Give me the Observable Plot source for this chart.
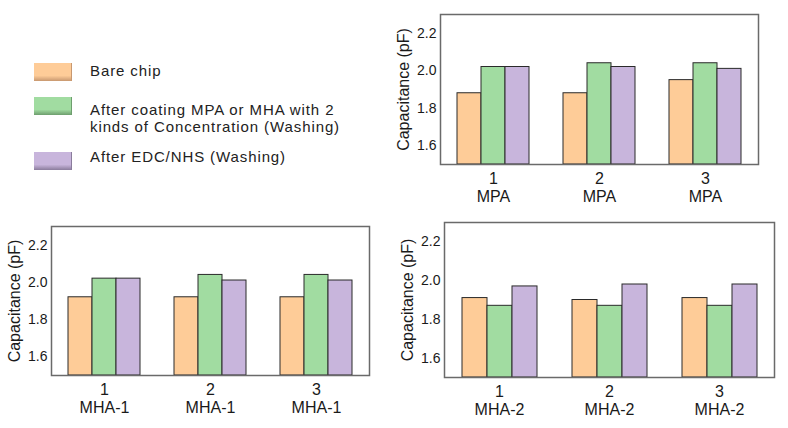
<!DOCTYPE html>
<html>
<head>
<meta charset="utf-8">
<script src="https://cdn.jsdelivr.net/npm/d3@7"></script>
<script src="https://cdn.jsdelivr.net/npm/@observablehq/plot@0.6"></script>
<style>
  html, body { margin: 0; padding: 0; background: #fff; }
  body { width: 788px; height: 428px; position: relative; overflow: hidden; font-family: "Liberation Sans", Arial, sans-serif; }
  .panel { position: absolute; }
  .sw { position: absolute; left: 34px; width: 38px; height: 18px; }
  .lt { position: absolute; left: 90px; font-size: 15px; line-height: 17px; letter-spacing: 0.9px; color: #222; white-space: nowrap; }
</style>
</head>
<body>
<div id="legend"></div>
<div id="p1" class="panel" style="left:389px; top:0px;"></div>
<div id="p2" class="panel" style="left:1px; top:212px;"></div>
<div id="p3" class="panel" style="left:393px; top:208px;"></div>
<script>
// ---- data ----
const groups = ["1", "2", "3"];
const seriesNames = [
  "Bare chip",
  "After coating MPA or MHA with 2 kinds of Concentration (Washing)",
  "After EDC/NHS (Washing)"
];
const legendLines = [
  ["Bare chip"],
  ["After coating MPA or MHA with 2", "kinds of Concentration (Washing)"],
  ["After EDC/NHS (Washing)"]
];
const colors = ["#FECC98", "#A1DCA1", "#C8B5DC"];
const swatchShade = ["#C89870", "#6E9E6E", "#8A7C9C"];
const yTicks = [1.6, 1.8, 2.0, 2.2];
const yDomain = [1.5, 2.3];
const yLabel = "Capacitance (pF)";

const panelNames = ["MPA", "MHA-1", "MHA-2"];
// values[group][series]
const mpaValues  = [[1.88, 2.02, 2.02], [1.88, 2.04, 2.02], [1.95, 2.04, 2.01]];
const mha1Values = [[1.92, 2.02, 2.02], [1.92, 2.04, 2.01], [1.92, 2.04, 2.01]];
const mha2Values = [[1.91, 1.87, 1.97], [1.90, 1.87, 1.98], [1.91, 1.87, 1.98]];

// ---- legend ----
const legend = document.getElementById("legend");
const swTops = [63, 97, 152];
const textTops = [62, 101, 148];
seriesNames.forEach((s, i) => {
  const sw = document.createElement("div");
  sw.className = "sw";
  sw.style.top = swTops[i] + "px";
  sw.style.background = `linear-gradient(to bottom, ${colors[i]} 0%, ${colors[i]} 70%, ${swatchShade[i]} 100%)`;
  sw.style.boxShadow = `inset -1px 0 0 ${swatchShade[i]}`;
  legend.appendChild(sw);
  const t = document.createElement("div");
  t.className = "lt";
  t.style.top = textTops[i] + "px";
  t.innerHTML = legendLines[i].join("<br>");
  legend.appendChild(t);
});

// ---- panels ----
function tidy(values) {
  const rows = [];
  values.forEach((g, gi) => g.forEach((v, si) => rows.push({group: groups[gi], s: si, series: seriesNames[si], value: v})));
  return rows;
}

function panel(values, name, opts) {
  const data = tidy(values);
  return Plot.plot({
    width: opts.width,
    height: opts.height,
    marginLeft: opts.ml,
    marginRight: opts.mr,
    marginTop: opts.mt,
    marginBottom: opts.mb,
    style: {fontFamily: "'Liberation Sans', Arial, sans-serif", color: "#1a1a1a", background: "transparent", overflow: "visible"},
    fx: {domain: groups, padding: 0, axis: null},
    x: {domain: [0, 1, 2], paddingInner: 0, paddingOuter: 0.64, axis: null},
    y: {domain: yDomain, axis: null},
    color: {domain: seriesNames, range: colors},
    marks: [
      Plot.barY(data, {
        fx: "group", x: "s", y1: yDomain[0], y2: "value",
        fill: "series", stroke: "#2a2a2a", strokeWidth: 1, inset: 0
      }),
      Plot.frame({facet: "super", stroke: "#6a6a6a", strokeWidth: 1.5}),
      Plot.axisY({ticks: yTicks, tickFormat: d3.format(".1f"), tickSize: 0, tickPadding: 4, fontSize: 14, label: null}),
      Plot.text([yLabel], {facet: "super", frameAnchor: "left", textAnchor: "middle", lineAnchor: "middle", rotate: -90, dx: -37, fontSize: 16, fill: "#1a1a1a"}),
      Plot.axisFx({anchor: "bottom", tickFormat: d => `${d}\n${name}`, tickSize: 0, tickPadding: 7, fontSize: 16, lineHeight: 1.12, label: null})
    ]
  });
}

document.getElementById("p1").appendChild(panel(mpaValues, panelNames[0], {width: 380, height: 215, ml: 50, mr: 10, mt: 14, mb: 51}));
document.getElementById("p2").appendChild(panel(mha1Values, panelNames[1], {width: 380, height: 216, ml: 50, mr: 12, mt: 14, mb: 53}));
document.getElementById("p3").appendChild(panel(mha2Values, panelNames[2], {width: 390, height: 220, ml: 50, mr: 9, mt: 14, mb: 51}));
</script>
</body>
</html>
